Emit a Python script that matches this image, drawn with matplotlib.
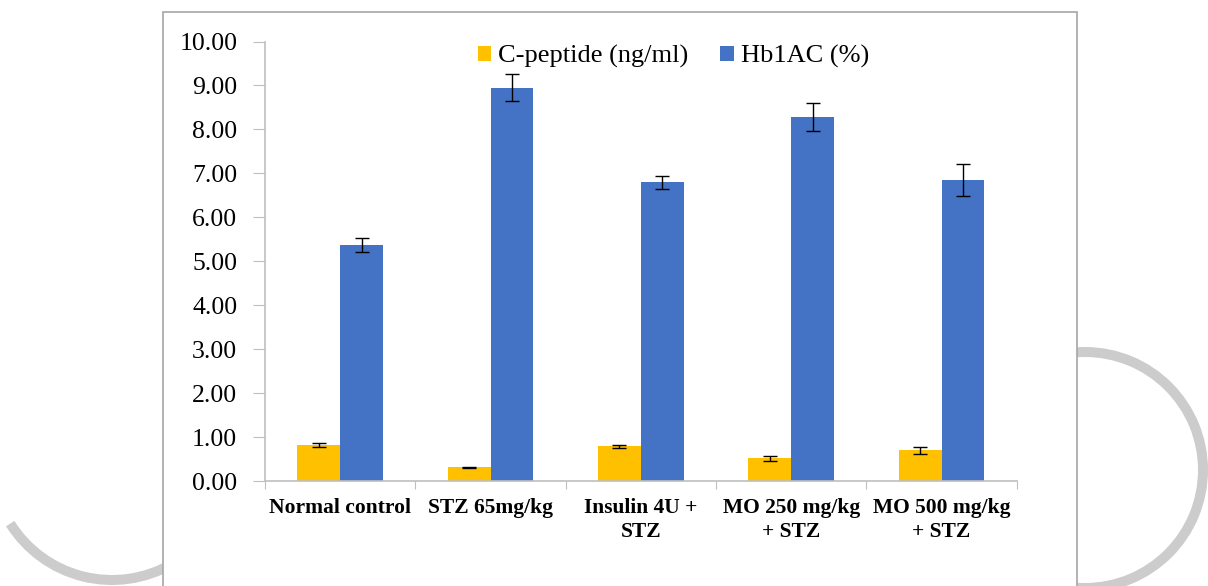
import matplotlib.pyplot as plt
import numpy as np
from matplotlib.patches import Arc, Rectangle

# Data
groups = ['Normal control', 'STZ 65mg/kg', 'Insulin 4U +\nSTZ',
          'MO 250 mg/kg\n+ STZ', 'MO 500 mg/kg\n+ STZ']
c_peptide = [0.82, 0.31, 0.79, 0.52, 0.70]
c_peptide_err = [0.04, 0.01, 0.03, 0.06, 0.08]
hba1c = [5.37, 8.95, 6.80, 8.28, 6.85]
hba1c_err = [0.15, 0.30, 0.15, 0.31, 0.36]
series_names = ['C-peptide (ng/ml)', 'Hb1AC (%)']

W, H = 1208, 586
fig = plt.figure(figsize=(W / 100, H / 100), dpi=100)
plt.rcParams['font.family'] = ['Liberation Serif', 'DejaVu Serif']

# background: grey watermark rings and the white chart frame, in pixel coords
bg = fig.add_axes([0, 0, 1, 1], zorder=0)
bg.set_xlim(0, W)
bg.set_ylim(H, 0)
bg.axis('off')
bg.add_patch(Arc((1085, 470), 236, 236, lw=7.2, color='#cccccc'))
bg.add_patch(Arc((112, 460), 240, 240, theta1=60, theta2=148, lw=7.2, color='#cccccc'))
bg.add_patch(Rectangle((163, 12), 1077 - 163, 620, facecolor='white',
                       edgecolor='#a6a6a6', lw=1.2, zorder=3))

# main plot
ax = fig.add_axes([265 / W, (H - 481) / H, 751.7 / W, 439.5 / H], zorder=1)
ax.patch.set_alpha(0)
x = np.arange(len(groups))
bw = 0.285
ekw = dict(ecolor='black', elinewidth=1, capsize=4.8, capthick=1)
ax.bar(x - bw / 2, c_peptide, bw, yerr=c_peptide_err, color='#FFC000',
       label=series_names[0], error_kw=ekw)
ax.bar(x + bw / 2, hba1c, bw, yerr=hba1c_err, color='#4472C4',
       label=series_names[1], error_kw=ekw)

ax.set_xlim(-0.5, len(groups) - 0.5)
ax.set_ylim(0, 10)
ax.set_yticks(np.arange(0, 11, 1))
ax.set_yticklabels(['%.2f' % v for v in np.arange(0, 11, 1)], fontsize=18.5)
ax.tick_params(axis='y', length=9, color='#bfbfbf', pad=11)

ax.set_xticks(np.arange(-0.5, len(groups), 1))
ax.set_xticklabels([])
ax.set_xticks(x, minor=True)
ax.set_xticklabels(groups, minor=True, fontsize=15.5, fontweight='bold',
                   linespacing=1.3)
ax.tick_params(axis='x', which='major', length=6, color='#bfbfbf')
ax.tick_params(axis='x', which='minor', length=0, pad=12)

for side in ['top', 'right']:
    ax.spines[side].set_visible(False)
for side in ['left', 'bottom']:
    ax.spines[side].set_color('#bfbfbf')
    ax.spines[side].set_linewidth(1.2)

ax.legend(loc='center', bbox_to_anchor=(0.543, 0.965), ncol=2, frameon=False,
          fontsize=19, handlelength=0.53, handleheight=0.53, handletextpad=0.25,
          columnspacing=1.2)

fig.savefig('out.png', dpi=100)
